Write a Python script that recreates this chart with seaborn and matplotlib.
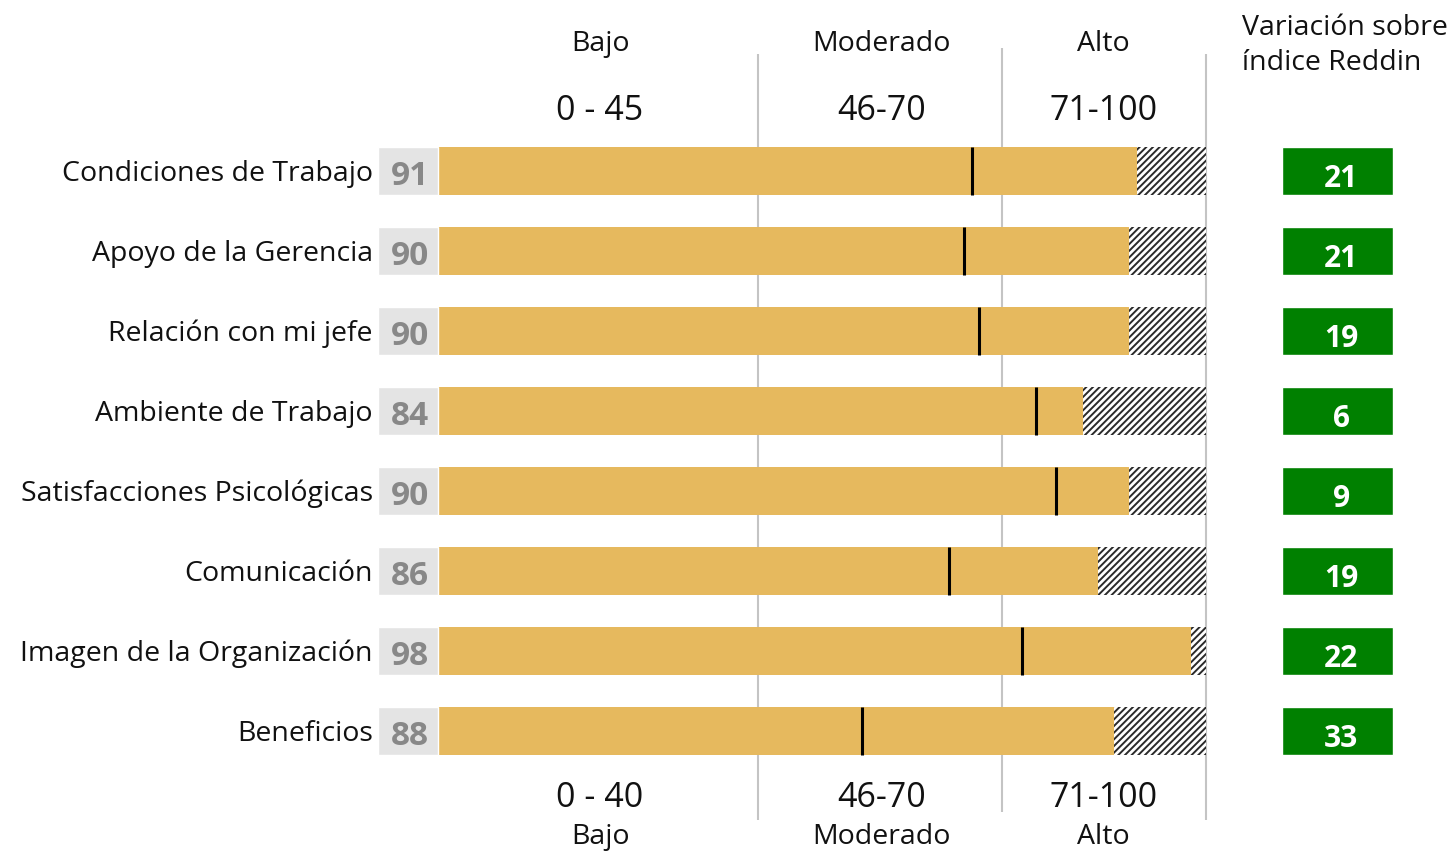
import matplotlib
matplotlib.use("Agg")
import matplotlib.pyplot as plt
import seaborn as sns

# ============================
# DATA
# ============================
categories = ["Condiciones de Trabajo", "Apoyo de la Gerencia", "Relación con mi jefe",
              "Ambiente de Trabajo", "Satisfacciones Psicológicas", "Comunicación",
              "Imagen de la Organización", "Beneficios"]
values = [91, 90, 90, 84, 90, 86, 98, 88]
reddin = [69.5, 68.5, 70.5, 77.8, 80.5, 66.6, 76.0, 55.2]
variation = [21, 21, 19, 6, 9, 19, 22, 33]

band_names = ["Bajo", "Moderado", "Alto"]
top_ranges = ["0 - 45", "46-70", "71-100"]
bottom_ranges = ["0 - 40", "46-70", "71-100"]
band_edges = [41.7, 73.4, 100]

# ============================
# STYLE
# ============================
sns.set_theme(style="white")
plt.rcParams["font.family"] = ["Open Sans", "DejaVu Sans"]
plt.rcParams["hatch.linewidth"] = 1.4

BAR_H = 0.61
GOLD = "#e6b95e"
GREEN = "#008000"
TXT = "#111111"
FS_LABEL = 20.5
FS_RANGE = 24.5
DY = 0.0375   # small downward nudge for text

fig = plt.figure(figsize=(14.52, 8.59), dpi=100)
ax = fig.add_axes([0, 0, 1, 1])

# band separators (behind the bars)
ax.vlines(band_edges[0], -1.46, 8.11, color="#c4c4c4", lw=1.5, zorder=0)
ax.vlines(band_edges[1], -1.54, 8.01, color="#c4c4c4", lw=1.5, zorder=0)
ax.vlines(band_edges[2], -1.46, 8.11, color="#c4c4c4", lw=1.5, zorder=0)

# hatched background up to 100
sns.barplot(x=[100] * len(categories), y=categories, orient="h", ax=ax,
            color="white", edgecolor="#2a2a2a", linewidth=0, hatch="/////",
            width=BAR_H, saturation=1, zorder=1)
# actual values
sns.barplot(x=values, y=categories, orient="h", ax=ax, color=GOLD,
            linewidth=0, width=BAR_H, saturation=1, zorder=2)

ypos = list(range(len(categories)))

# reddin markers
ax.vlines(reddin, [y - BAR_H / 2 for y in ypos], [y + BAR_H / 2 for y in ypos],
          color="black", lw=2.2, zorder=3)

# grey value boxes
ax.barh(ypos, 7.8, left=-7.8, height=BAR_H, color="#e4e4e4", zorder=2)
# green variation boxes
ax.barh(ypos, 14.4, left=109.9, height=BAR_H, color=GREEN, zorder=2)

for y, cat, v, d in zip(ypos, categories, values, variation):
    ax.text(-8.5, y + DY, cat, ha="right", va="center", fontsize=FS_LABEL, color=TXT)
    ax.text(-3.7, y + 0.07, str(v), ha="center", va="center", fontsize=24,
            fontweight="bold", color="#888888", zorder=4)
    ax.text(117.6, y + 0.1, str(d), ha="center", va="center", fontsize=21.5,
            fontweight="bold", color="white", zorder=4)

centers_top = [21.1, 57.7, 86.6]
for cx, name, rng in zip(centers_top, band_names, top_ranges):
    ax.text(cx, -1.625 + DY, name, ha="center", va="center", fontsize=FS_LABEL, color=TXT)
    ax.text(cx, -0.79 + DY, rng, ha="center", va="center", fontsize=FS_RANGE, color=TXT)
for cx, name, rng in zip(centers_top, band_names, bottom_ranges):
    ax.text(cx, 7.8 + DY, rng, ha="center", va="center", fontsize=FS_RANGE, color=TXT)
    ax.text(cx, 8.33, name, ha="center", va="center", fontsize=FS_LABEL, color=TXT)

ax.text(104.7, -1.83 + DY, "Variación sobre", ha="left", va="center", fontsize=FS_LABEL, color=TXT)
ax.text(104.7, -1.39 + DY, "índice Reddin", ha="left", va="center", fontsize=FS_LABEL, color=TXT)

ax.set_xlim(-57.03, 132.03)
ax.set_ylim(8.6, -2.1375)
ax.axis("off")

fig.savefig("out.png", dpi=100)
